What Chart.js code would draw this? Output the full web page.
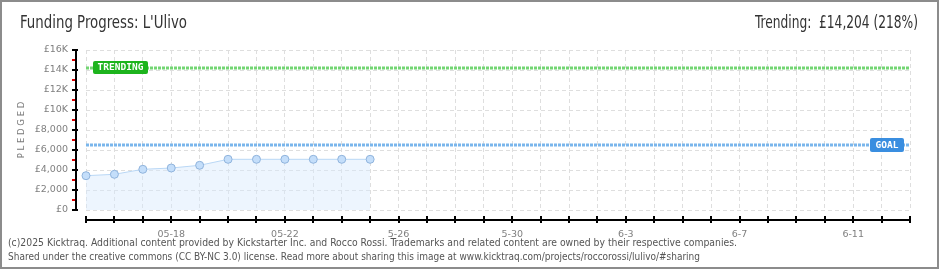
<!DOCTYPE html>
<html lang="en">
<head>
  <meta charset="UTF-8">
  <title>Funding Progress: L'Ulivo</title>
  <style>
    html, body { margin: 0; padding: 0; background: #fff; }
    #frame {
      position: absolute; left: 0; top: 0;
      width: 939px; height: 269px;
      box-sizing: border-box; border: 2px solid #8c8c8c;
    }
    #chart { position: absolute; left: 0; top: 0; }
    .txt { position: absolute; white-space: nowrap; transform-origin: 0 0; }
    #title { left: 20px; top: 12px; font: 17px "Liberation Sans Narrow", "DejaVu Sans Condensed", sans-serif; color: #333; }
    #trending { top: 12px; font: 17px "Liberation Sans Narrow", "DejaVu Sans Condensed", sans-serif; color: #333; }
    .foot { left: 8px; font: 10.5px "Liberation Sans Narrow", "DejaVu Sans Condensed", sans-serif; color: #555; }
  </style>
</head>
<body>
  <div id="frame"></div>
  <canvas id="chart" width="940" height="270"></canvas>
  <div class="txt" id="title">Funding Progress: L'Ulivo</div>
  <div class="txt" id="trending">Trending:&nbsp; £14,204 (218%)</div>
  <div class="txt foot" id="foot1" style="top:236px">(c)2025 Kicktraq. Additional content provided by Kickstarter Inc. and Rocco Rossi. Trademarks and related content are owned by their respective companies.</div>
  <div class="txt foot" id="foot2" style="top:250px">Shared under the creative commons (CC BY-NC 3.0) license. Read more about sharing this image at www.kicktraq.com/projects/roccorossi/lulivo/#sharing</div>

  <script src="https://cdn.jsdelivr.net/npm/chart.js"></script>
  <script>
    // days on the x axis (05-15 .. 06-13)
    const days = ['05-15','05-16','05-17','05-18','05-19','05-20','05-21','05-22','05-23','05-24',
                  '05-25','05-26','05-27','05-28','05-29','05-30','05-31','06-01','06-02','06-03',
                  '06-04','06-05','06-06','06-07','06-08','06-09','06-10','06-11','06-12','06-13'];
    const dayLabels = ['','','','05-18','','','','05-22','','',
                       '','5-26','','','','5-30','','','','6-3',
                       '','','','6-7','','','','6-11','',''];
    const pledged = [3430, 3570, 4070, 4200, 4470, 5070, 5070, 5070, 5070, 5070, 5070];
    const goal = 6500;
    const trending = 14204;
    const yTicks = [0, 2000, 4000, 6000, 8000, 10000, 12000, 14000, 16000];
    const yTickLabels = ['£0','£2,000','£4,000','£6,000','£8,000','£10K','£12K','£14K','£16K'];

    // stretch a text line to the width it has in the picture
    function fit(id, width, right) {
      const el = document.getElementById(id);
      const w = el.getBoundingClientRect().width;
      el.style.transform = 'scaleX(' + (width / w) + ')';
      if (right !== undefined) el.style.left = (right - width) + 'px';
    }
    fit('title', 167);
    fit('trending', 163, 918);
    fit('foot1', 729);
    fit('foot2', 692);

    const tickFont = { family: '"DejaVu Sans", sans-serif', size: 9.5 };

    function tag(ctx, text, x, y, w, h, color) {
      ctx.fillStyle = color;
      ctx.beginPath();
      ctx.roundRect(x, y, w, h, 2);
      ctx.fill();
      ctx.fillStyle = '#fff';
      ctx.font = 'bold 9.5px "DejaVu Sans Mono", monospace';
      ctx.textAlign = 'center';
      ctx.textBaseline = 'middle';
      ctx.fillText(text, x + w / 2, y + h / 2 + 0.5);
    }

    // axis lines sit a little outside the plot, like the original
    const kickAxes = {
      id: 'kickAxes',
      afterDatasetsDraw(chart) {
        const { ctx, chartArea: a, scales: { x, y } } = chart;
        ctx.save();
        ctx.fillStyle = '#000';
        const ax = a.left - 11;
        ctx.fillRect(ax, y.getPixelForValue(16000), 2, y.getPixelForValue(0) - y.getPixelForValue(16000) + 1);
        yTicks.forEach(v => ctx.fillRect(ax - 3, Math.round(y.getPixelForValue(v)) - 1, 6, 2));
        ctx.fillStyle = '#e00000';
        for (let v = 1000; v < 16000; v += 2000) {
          ctx.fillRect(ax - 3, Math.round(y.getPixelForValue(v)) - 1, 3, 2);
        }
        ctx.fillStyle = '#000';
        const by = a.bottom + 9;
        ctx.fillRect(a.left, by, a.right - a.left + 1, 2);
        days.forEach((d, i) => ctx.fillRect(Math.round(x.getPixelForValue(i)) - 1, by - 3, 2, 7));

        tag(ctx, 'TRENDING', a.left + 7, Math.round(y.getPixelForValue(trending)) - 7, 55, 13, '#1db41d');
        tag(ctx, 'GOAL', a.right - 40, Math.round(y.getPixelForValue(goal)) - 7, 34, 14, '#3a8ee0');
        ctx.restore();
      }
    };

    new Chart(document.getElementById('chart'), {
      type: 'line',
      data: {
        labels: days,
        datasets: [
          {
            label: 'Pledged',
            data: pledged,
            borderColor: '#b9d7f5',
            borderWidth: 1,
            backgroundColor: 'rgba(214,232,252,0.45)',
            fill: 'origin',
            tension: 0,
            pointRadius: 4,
            pointBackgroundColor: '#c4defa',
            pointBorderColor: '#8fb3dc',
            pointBorderWidth: 1,
            order: 3
          },
          {
            label: 'Goal',
            data: [{ x: days[0], y: goal }, { x: days[days.length - 1], y: goal }],
            borderColor: '#7ab6ec',
            borderWidth: 3,
            borderDash: [3, 1],
            pointRadius: 0,
            fill: false,
            order: 2
          },
          {
            label: 'Trending',
            data: [{ x: days[0], y: trending }, { x: days[days.length - 1], y: trending }],
            borderColor: '#73d673',
            borderWidth: 3,
            borderDash: [3, 1],
            pointRadius: 0,
            fill: false,
            order: 1
          }
        ]
      },
      options: {
        responsive: false,
        animation: false,
        layout: { padding: { left: 0, top: 50, right: 30, bottom: 0 } },
        plugins: { legend: { display: false }, tooltip: { enabled: false } },
        scales: {
          x: {
            afterFit: s => { s.height = 60; },
            grid: { color: '#dedede', drawTicks: false, tickBorderDash: [4, 3] },
            border: { display: false, dash: [4, 3] },
            ticks: {
              autoSkip: false, maxRotation: 0, padding: 19,
              color: '#7f7f7f', font: tickFont,
              callback: (v, i) => dayLabels[i]
            }
          },
          y: {
            min: 0, max: 16000,
            afterFit: s => { s.width = 86; },
            afterBuildTicks: s => { s.ticks = yTicks.map(v => ({ value: v })); },
            grid: { color: '#dedede', drawTicks: false, tickBorderDash: [4, 3] },
            border: { display: false, dash: [4, 3] },
            ticks: {
              padding: 18, color: '#7f7f7f', font: tickFont,
              callback: (v, i) => yTickLabels[i]
            },
            title: {
              display: true, text: 'P L E D G E D', color: '#7a7a7a',
              font: { family: '"DejaVu Sans", sans-serif', size: 8.5 },
              padding: { top: 17, bottom: 0 }
            }
          }
        }
      },
      plugins: [kickAxes]
    });
  </script>
</body>
</html>
